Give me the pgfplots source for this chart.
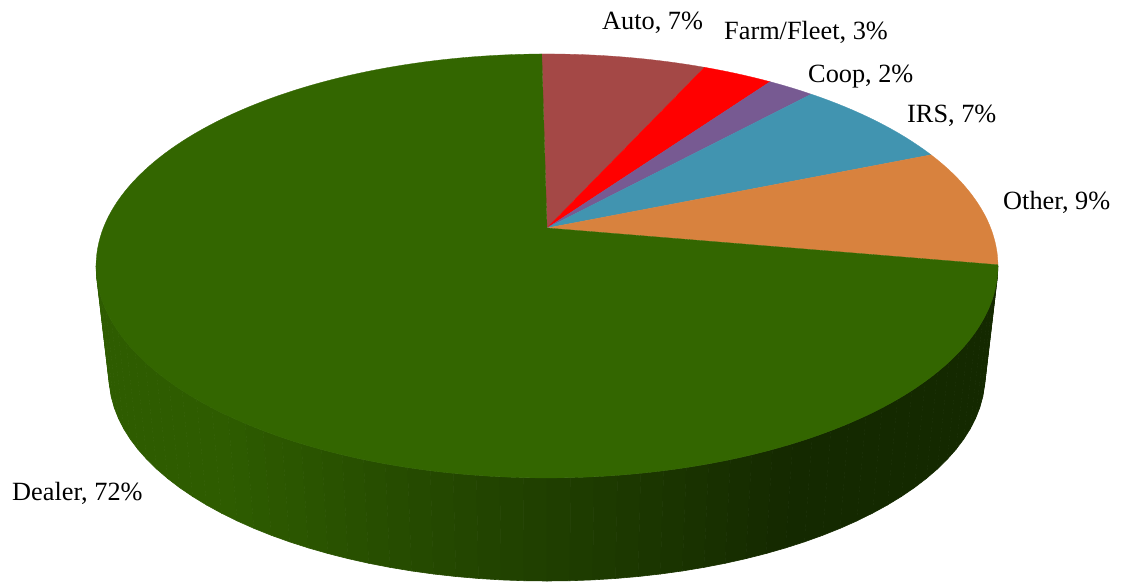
\documentclass[border=0pt]{standalone}
\usepackage{pgfplots}
\usepackage{pgfplotstable}
\usepackage{fontspec}
\setmainfont{Liberation Serif}
\pgfplotsset{compat=1.18}

% Shares of the pie, clockwise from the top
\pgfplotstableread{
name    value colour
Auto    7     autoc
Farm    3     farmc
Coop    2     coopc
IRS     7     irsc
Other   9     otherc
Dealer  72    dealerc
}\piedata

\definecolor{autoc}{HTML}{A44846}
\definecolor{farmc}{HTML}{FF0000}
\definecolor{coopc}{HTML}{775A92}
\definecolor{irsc}{HTML}{4194B0}
\definecolor{otherc}{HTML}{D8823E}
\definecolor{dealerc}{HTML}{336600}

% Perspective of the top face: hub at (547,228), a=443.7, b=205.2, k=0.179
\newcommand{\rimx}[1]{547+443.7*cos(#1)/(1+0.179*sin(#1))}
\newcommand{\rimy}[1]{228-205.2*sin(#1)/(1+0.179*sin(#1))}

\begin{document}
\begin{tikzpicture}
\path[use as bounding box] (0,0) rectangle (1126pt,581pt);
\begin{axis}[
  at={(0,0)}, anchor=south west,
  scale only axis, width=1126pt, height=581pt,
  xmin=0, xmax=1126, ymin=0, ymax=581, y dir=reverse,
  hide axis, clip=false,
]
% Side wall of the disc, one shaded strip per step along the rim
\pgfplotsforeachungrouped \stripno in {0,...,59}{
  \pgfmathsetmacro{\pa}{180+3*\stripno}
  \pgfmathsetmacro{\pb}{183+3*\stripno}
  \pgfmathsetmacro{\xa}{547+451*cos(\pa)}
  \pgfmathsetmacro{\ya}{266-212*sin(\pa)}
  \pgfmathsetmacro{\xb}{547+451*cos(\pb)}
  \pgfmathsetmacro{\yb}{266-212*sin(\pb)}
  \pgfmathsetmacro{\xc}{547+438*cos(\pb)}
  \pgfmathsetmacro{\yc}{376-205*sin(\pb)}
  \pgfmathsetmacro{\xd}{547+438*cos(\pa)}
  \pgfmathsetmacro{\yd}{376-205*sin(\pa)}
  \pgfmathsetmacro{\gval}{max(41,min(92,92-0.088*((\xa+\xb)/2-220)))/255}
  \pgfmathsetmacro{\rval}{\gval/2}
  \edef\cmd{\noexpand\addplot[fill={rgb,1:red,\rval;green,\gval;blue,0},draw={rgb,1:red,\rval;green,\gval;blue,0},line width=0.6pt,line join=round,forget plot]
    coordinates {(\xa,\ya) (\xb,\yb) (\xc,\yc) (\xd,\yd)} -- cycle;}
  \cmd
}
% Top face: each slice's angle follows from its share in the table
\def\startangle{90.8}
\pgfplotstablegetrowsof{\piedata}
\pgfmathtruncatemacro{\lastrow}{\pgfplotsretval-1}
\pgfplotsforeachungrouped \row in {0,...,\lastrow}{
  \pgfplotstablegetelem{\row}{value}\of{\piedata}
  \let\share\pgfplotsretval
  \pgfplotstablegetelem{\row}{colour}\of{\piedata}
  \let\slicecol\pgfplotsretval
  \pgfmathsetmacro{\sweep}{3.6*\share}
  \pgfmathtruncatemacro{\steps}{max(4,\sweep/1.5)}
  \def\pts{(547,228)}
  \pgfplotsforeachungrouped \stepno in {0,...,\steps}{
    \pgfmathsetmacro{\ang}{\startangle-\sweep/\steps*\stepno}
    \pgfmathsetmacro{\px}{\rimx{\ang}}
    \pgfmathsetmacro{\py}{\rimy{\ang}}
    \xdef\pts{\pts (\px,\py)}
  }
  \edef\cmd{\noexpand\addplot[fill=\slicecol,draw=\slicecol,line width=0.3pt,line join=round,forget plot]
    coordinates {\pts} -- cycle;}
  \cmd
  \pgfmathsetmacro{\newstart}{\startangle-\sweep}
  \global\let\startangle\newstart
}
% Labels
\begin{scope}[every node/.style={anchor=base west,inner sep=0pt,font=\fontsize{26.3}{28}\selectfont,text=black}]
\node at (axis cs:602,29) {Auto, 7\%};
\node at (axis cs:724,39) {Farm/Fleet, 3\%};
\node at (axis cs:808,82) {Coop, 2\%};
\node at (axis cs:907,122) {IRS, 7\%};
\node at (axis cs:1003,209) {Other, 9\%};
\node at (axis cs:12,500) {Dealer, 72\%};
\end{scope}
\end{axis}
\end{tikzpicture}
\end{document}
